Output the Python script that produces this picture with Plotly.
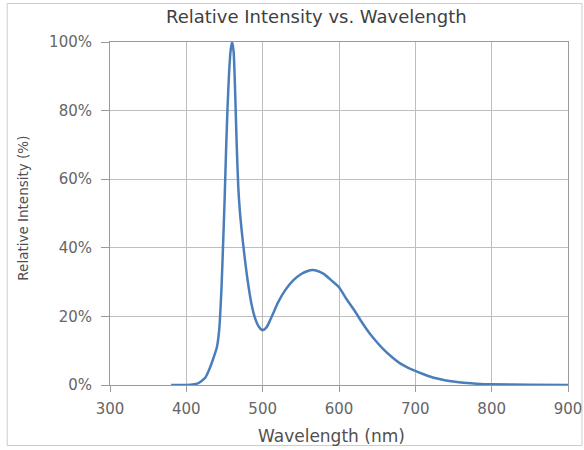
import plotly.graph_objects as go

wavelength_nm = [380, 390, 400, 410, 415, 420, 425, 430, 435, 440, 443, 446, 448, 450, 452,
                 454, 456, 458, 460, 462, 464, 466, 468, 470, 473, 476, 480, 485, 490, 495,
                 500, 505, 510, 515, 520, 530, 540, 550, 560, 565, 570, 580, 590, 600, 610,
                 620, 630, 640, 650, 660, 670, 680, 690, 700, 710, 720, 730, 740, 750, 760,
                 780, 800, 850, 900]
relative_intensity = [0, 0, 0, 0.2, 0.5, 1.2, 2.2, 4.5, 7.5, 11, 16, 28, 40, 53, 68,
                      81, 91, 97.5, 100, 97, 85, 70, 58, 51, 44, 38, 31, 24, 19.5, 17,
                      16, 16.8, 19, 21.5, 24, 27.8, 30.5, 32.3, 33.3, 33.5, 33.4, 32.4, 30.5, 28.5, 25,
                      21.8, 18.3, 15.1, 12.4, 10, 8, 6.3, 5.1, 4.1, 3.2, 2.4, 1.8, 1.3, 1.0, 0.7,
                      0.4, 0.2, 0.05, 0]

x_ticks = [300, 400, 500, 600, 700, 800, 900]
y_ticks = [0, 20, 40, 60, 80, 100]
y_tick_labels = ["0%", "20%", "40%", "60%", "80%", "100%"]

title_text = "Relative Intensity vs. Wavelength"
x_title = "Wavelength (nm)"
y_title = "Relative Intensity (%)"

W, H = 584, 450
L, R, T, B = 109.5, 15.5, 42, 65
pw, ph = W - L - R, H - T - B

def px_to_paper_x(px):
    return (px - L) / pw

def py_to_paper_y(py):
    return (H - B - py) / ph

fig = go.Figure()
fig.add_trace(go.Scatter(
    x=wavelength_nm, y=relative_intensity, mode="lines",
    line=dict(color="#4a7ebb", width=2.5, shape="spline", smoothing=0.6),
    hoverinfo="skip", showlegend=False,
))

font_family = "DejaVu Sans, Liberation Sans, Arial, sans-serif"

fig.update_layout(
    width=W, height=H,
    margin=dict(l=L, r=R, t=T, b=B, pad=0, autoexpand=False),
    paper_bgcolor="white", plot_bgcolor="white",
    font=dict(family=font_family, color="#666666"),
    showlegend=False,
    xaxis=dict(
        range=[300, 900], tickvals=x_ticks, ticktext=[str(v) for v in x_ticks],
        showgrid=True, gridcolor="#bdbdbd", gridwidth=1,
        showline=True, linecolor="#9a9a9a", linewidth=1, mirror=True,
        ticks="outside", ticklen=6, tickcolor="#9a9a9a",
        tickfont=dict(size=15, color="#666666"),
        ticklabelstandoff=4, automargin=False,
        zeroline=False, fixedrange=True,
    ),
    yaxis=dict(
        range=[0, 100], tickvals=y_ticks, ticktext=y_tick_labels,
        showgrid=True, gridcolor="#bdbdbd", gridwidth=1,
        showline=True, linecolor="#9a9a9a", linewidth=1, mirror=True,
        ticks="outside", ticklen=8, tickcolor="#9a9a9a",
        tickfont=dict(size=15, color="#666666"),
        ticklabelstandoff=6, automargin=False,
        zeroline=False, fixedrange=True,
    ),
    shapes=[dict(
        type="rect", xref="paper", yref="paper", layer="below",
        x0=px_to_paper_x(6.5), x1=px_to_paper_x(582.5),
        y0=py_to_paper_y(445.5), y1=py_to_paper_y(3.5),
        line=dict(color="#cccccc", width=1), fillcolor="rgba(0,0,0,0)",
    )],
    annotations=[
        dict(text=title_text, xref="paper", yref="paper",
             x=px_to_paper_x(316), y=py_to_paper_y(16), xanchor="center", yanchor="middle",
             showarrow=False, font=dict(size=18, color="#404040", family=font_family)),
        dict(text=x_title, xref="paper", yref="paper",
             x=px_to_paper_x(331), y=py_to_paper_y(436), xanchor="center", yanchor="middle",
             showarrow=False, font=dict(size=17, color="#505050", family=font_family)),
        dict(text=y_title, xref="paper", yref="paper", textangle=-90,
             x=px_to_paper_x(22), y=py_to_paper_y(208), xanchor="center", yanchor="middle",
             showarrow=False, font=dict(size=13.5, color="#505050", family=font_family)),
    ],
)

fig.write_html("out.html", config={"displayModeBar": False},
               post_script="document.body.style.margin='0';document.body.style.overflow='hidden';")
